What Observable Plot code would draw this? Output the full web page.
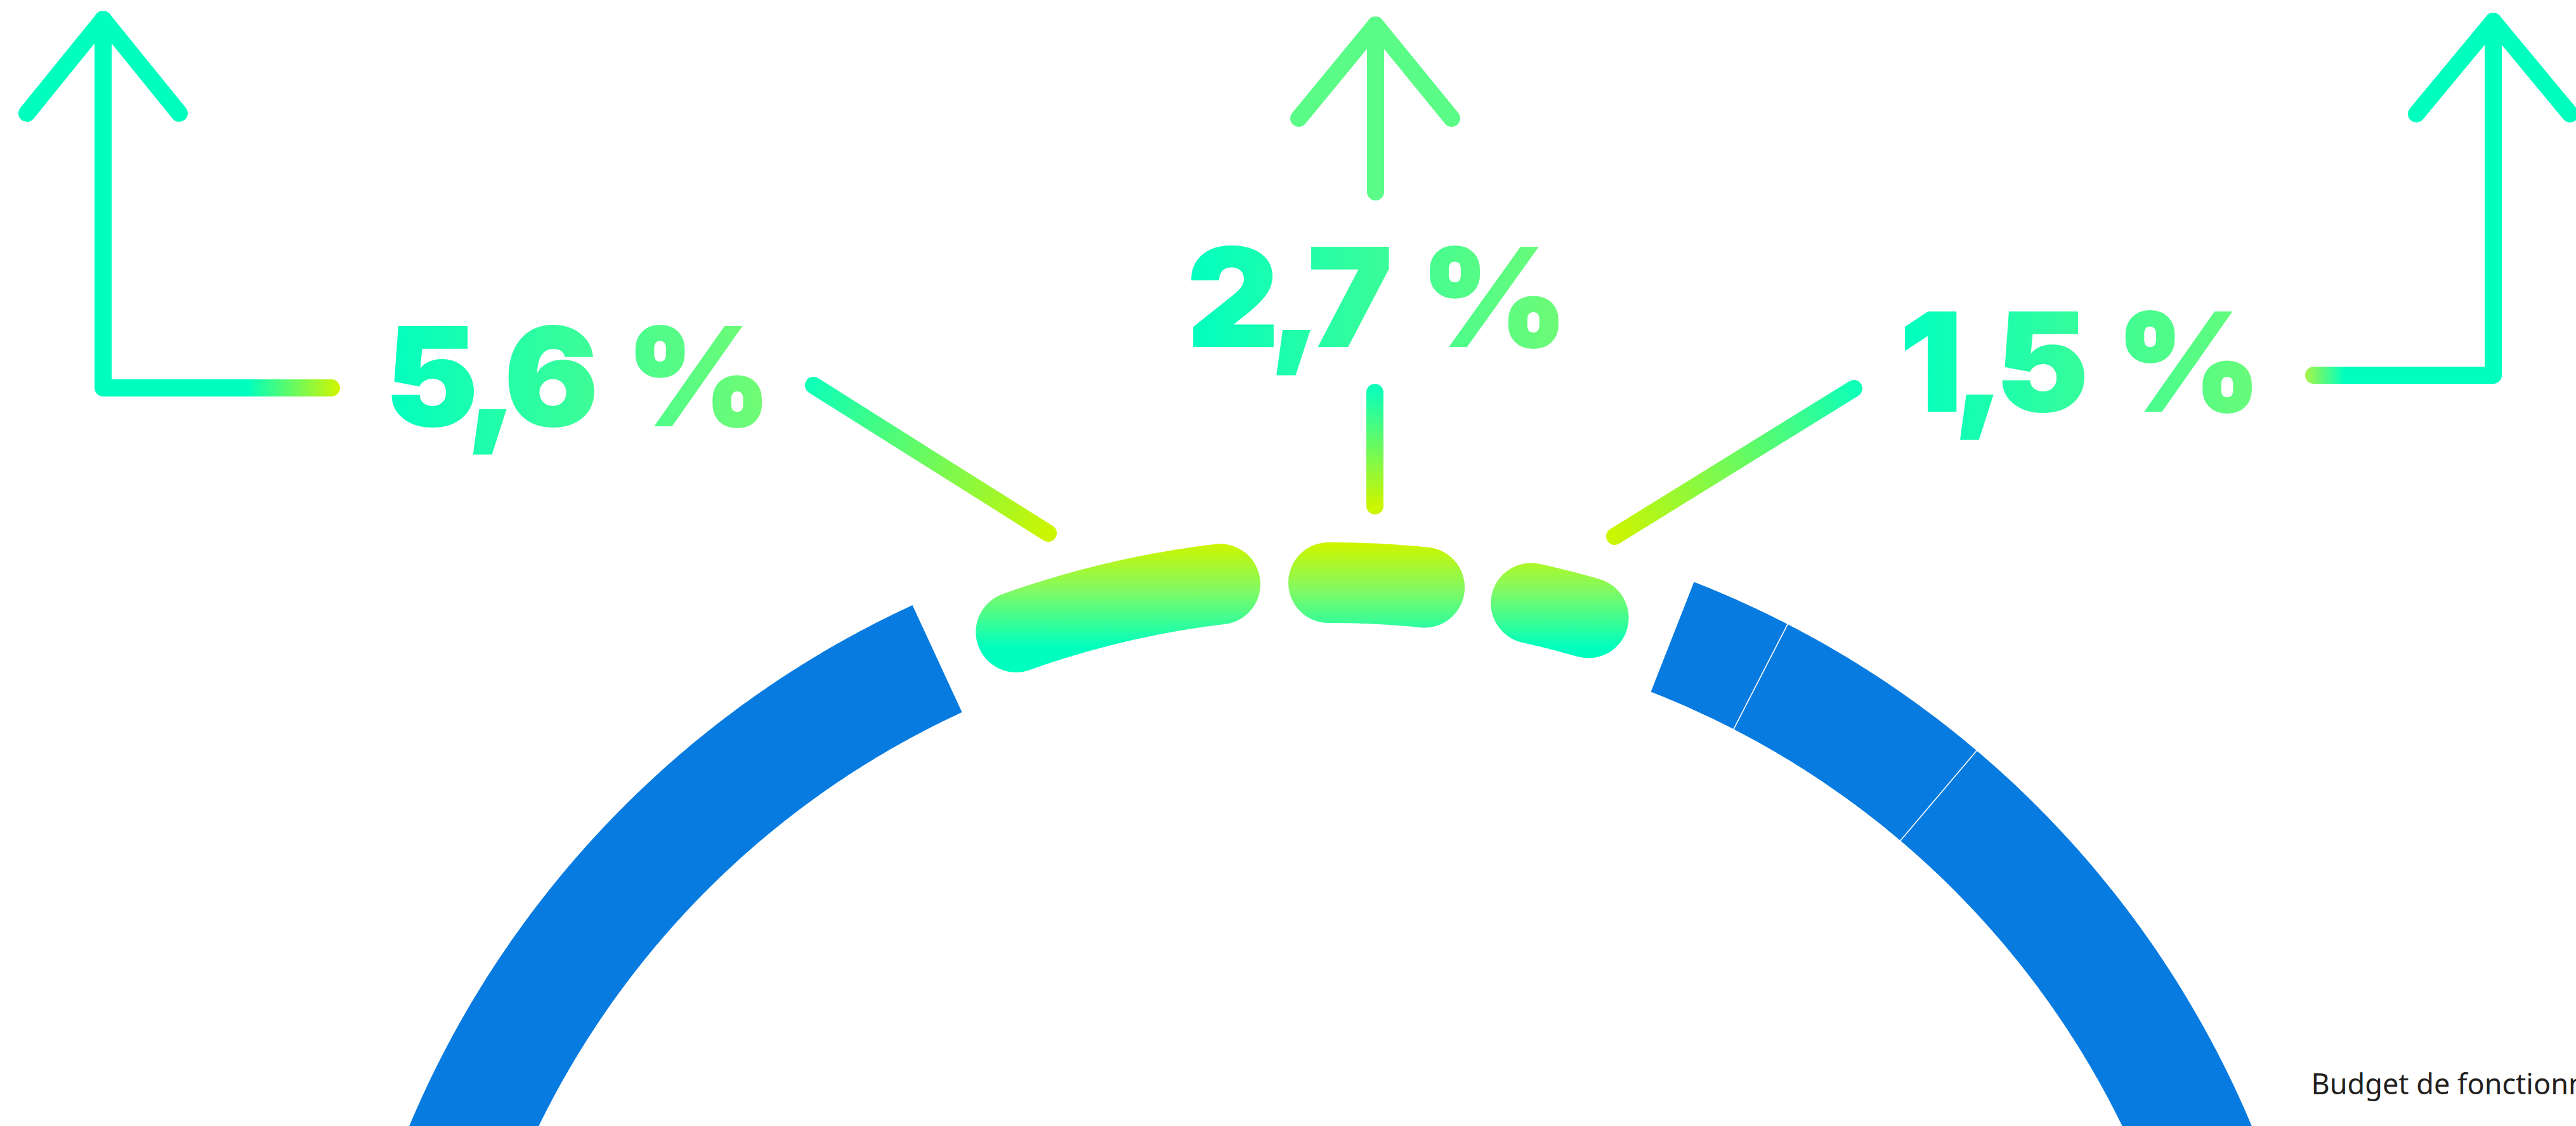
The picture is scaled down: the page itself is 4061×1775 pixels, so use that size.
<!DOCTYPE html>
<html>
<head>
<meta charset="utf-8">
<script src="https://cdn.jsdelivr.net/npm/d3@7"></script>
<script src="https://cdn.jsdelivr.net/npm/@observablehq/plot@0.6"></script>
<style>
  html, body { margin: 0; padding: 0; background: #ffffff; overflow: hidden; }
  #chart { width: 4061px; height: 1775px; }
</style>
</head>
<body>
<div id="chart"></div>
<script>
// ---------------- data (angles in degrees, clockwise from 12 o'clock) ----------------
const ringNames  = ["Segment 1", "Segment 2", "Segment 3", "Segment 4"];
const ringStart  = [21.33, 27.23, 40.3, 180];
const ringEnd    = [27.23, 40.3, 180, 335.27];
const dividerAngles = [27.23, 40.3];

const highlightNames  = ["gauche", "centre", "droite"];
const highlightStart  = [-19.65, -0.12, 12.44];
const highlightEnd    = [-6.78, 5.80, 16.08];
const highlightLabels = ["5,6 %", "2,7 %", "1,5 %"];

const captionText = "Budget de fonctionnement";

// ---------------- layout (pixels) ----------------
const W = 4061, H = 1775;
const L = {
  cx: 2097, cy: 2384,
  ringR: 1482, ringW: 186,
  divR: [1384, 1580],
  hlR: [1474, 1466, 1468], hlW: 127,
  leaders: [
    {x1: 1282, y1: 607, x2: 1652, y2: 840},
    {x1: 2167, y1: 618, x2: 2167, y2: 797},
    {x1: 2922, y1: 612, x2: 2545, y2: 845}
  ],
  labels: [
    {x: 607,  y: 670, len: 594},
    {x: 1871, y: 545, len: 586},
    {x: 2994, y: 647, len: 556}
  ],
  arrows: [
    {arms: [[42,178],[162,30],[282,178]], shaft: [[162,30],[162,611],[522,611]], arm: "#00ffbf", shaftStroke: "url(#gArrowL)"},
    {arms: [[2047,186],[2168,39],[2288,186]], shaft: [[2168,39],[2168,302]], arm: "#5afc87", shaftStroke: "#5afc87"},
    {arms: [[3809,179],[3930,33],[4051,179]], shaft: [[3930,33],[3930,591],[3647,591]], arm: "#00ffbf", shaftStroke: "url(#gArrowR)"}
  ],
  caption: {x: 3643, y: 1724}
};

const rad = d => d * Math.PI / 180;
function arc(start, end, r, key) {
  const n = Math.max(2, Math.ceil(Math.abs(end - start) / 0.2));
  return d3.range(n + 1).map(i => {
    const a = rad(start + (end - start) * i / n);
    return {key, x: L.cx + r * Math.sin(a), y: L.cy - r * Math.cos(a)};
  });
}

const ringPts = ringNames.flatMap((k, i) => arc(ringStart[i], ringEnd[i], L.ringR, k));
const hlPts = highlightNames.map((k, i) => arc(highlightStart[i], highlightEnd[i], L.hlR[i], k));

const marks = [
  Plot.line(ringPts, {x: "x", y: "y", z: "key", stroke: "#077be0", strokeWidth: L.ringW, strokeLinecap: "butt", strokeLinejoin: "round"}),
  Plot.link(dividerAngles, {
    x1: a => L.cx + L.divR[0] * Math.sin(rad(a)), y1: a => L.cy - L.divR[0] * Math.cos(rad(a)),
    x2: a => L.cx + L.divR[1] * Math.sin(rad(a)), y2: a => L.cy - L.divR[1] * Math.cos(rad(a)),
    stroke: "white", strokeWidth: 1.6
  }),
  ...hlPts.map(pts => Plot.line(pts, {x: "x", y: "y", stroke: "url(#gHL)", strokeWidth: L.hlW, strokeLinecap: "round", strokeLinejoin: "round"})),
  ...L.leaders.map((l, i) => Plot.link([l], {x1: "x1", y1: "y1", x2: "x2", y2: "y2", stroke: `url(#gLead${i})`, strokeWidth: 27, strokeLinecap: "round"})),
  ...L.arrows.flatMap(a => [
    Plot.line(a.shaft, {x: d => d[0], y: d => d[1], stroke: a.shaftStroke, strokeWidth: 27, strokeLinecap: "round", strokeLinejoin: "round"}),
    Plot.line(a.arms, {x: d => d[0], y: d => d[1], stroke: a.arm, strokeWidth: 27, strokeLinecap: "round", strokeLinejoin: "round"})
  ]),
  ...highlightLabels.map((t, i) => Plot.text([t], {
    x: () => L.labels[i].x, y: () => L.labels[i].y, text: d => d,
    textAnchor: "start", lineAnchor: "bottom",
    fill: `url(#gText${i})`, stroke: `url(#gText${i})`, strokeWidth: 2, strokeLinejoin: "miter",
    fontSize: 214, fontWeight: 900, fontFamily: "Inter, 'Open Sans', Roboto, sans-serif"
  })),
  Plot.text([captionText], {
    x: () => L.caption.x, y: () => L.caption.y, text: d => d,
    textAnchor: "start", lineAnchor: "bottom",
    fill: "#231f20", fontSize: 45, fontFamily: "Noto Sans"
  })
];

const chart = Plot.plot({
  width: W, height: H,
  margin: 0,
  x: {domain: [0, W], range: [0, W], axis: null},
  y: {domain: [0, H], range: [0, H], axis: null},
  style: {background: "#ffffff", overflow: "hidden"},
  marks
});
document.getElementById("chart").appendChild(chart);

// ---------------- gradients ----------------
const svg = d3.select(chart);
const defs = svg.insert("defs", ":first-child");
function lin(id, attrs, stops) {
  const g = defs.append("linearGradient").attr("id", id);
  Object.entries(attrs).forEach(([k, v]) => g.attr(k, v));
  stops.forEach(([o, c]) => g.append("stop").attr("offset", o).attr("stop-color", c));
}
const AQUA = "#00ffbf", YEL = "#ccf500";
lin("gHL", {gradientUnits: "userSpaceOnUse", x1: 0, y1: 858, x2: 0, y2: 1020}, [[0, YEL], [0.45, "#80fa64"], [1, AQUA]]);
L.leaders.forEach((l, i) => lin(`gLead${i}`, {gradientUnits: "userSpaceOnUse", x1: l.x1, y1: l.y1, x2: l.x2, y2: l.y2}, [[0, "#10ffb6"], [1, YEL]]));
lin("gArrowL", {gradientUnits: "userSpaceOnUse", x1: 390, y1: 0, x2: 535, y2: 0}, [[0, AQUA], [1, "#d2f500"]]);
lin("gArrowR", {gradientUnits: "userSpaceOnUse", x1: 3695, y1: 0, x2: 3638, y2: 0}, [[0, AQUA], [1, "#9cf54e"]]);
[["#00ffc0", "#70fb74"], ["#00ffc0", "#6dfb76"], ["#00ffc0", "#68fb79"]].forEach(([a, b], i) =>
  lin(`gText${i}`, {x1: 0, y1: 0, x2: 1, y2: 0}, [[0, a], [1, b]]));

// tighten and stretch labels horizontally to the reference widths (keeps the glyph height)
svg.selectAll("text").each(function () {
  const i = highlightLabels.indexOf(this.textContent);
  if (i < 0) return;
  this.style.letterSpacing = "-14px";
  this.style.wordSpacing = "28px";
  const w = this.getBBox().width;
  const sx = L.labels[i].len / w;
  const tr = this.getAttribute("transform");
  const xa = this.getAttribute("x");
  if (tr && /translate/.test(tr) && (xa == null || +xa === 0)) {
    this.setAttribute("transform", `${tr} scale(${sx},1)`);
  } else {
    const x0 = xa == null ? L.labels[i].x : +xa;
    this.setAttribute("transform", `${tr || ""} translate(${x0},0) scale(${sx},1) translate(${-x0},0)`);
  }
});
</script>
</body>
</html>
